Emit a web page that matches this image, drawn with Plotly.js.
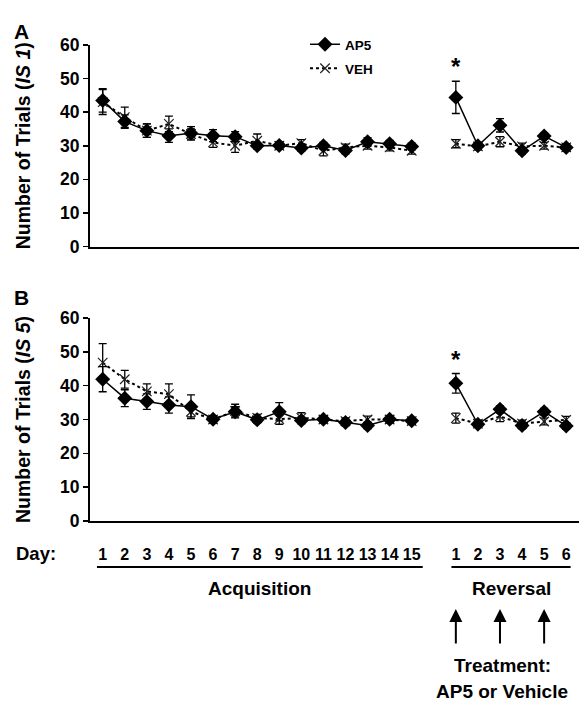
<!DOCTYPE html>
<html>
<head>
<meta charset="utf-8">
<script src="https://cdn.plot.ly/plotly-3.0.1.min.js"></script>
<style>
  html, body { margin: 0; padding: 0; background: #fff; }
  #chart { width: 579px; height: 701px; }
</style>
</head>
<body>
<div id="chart"></div>
<script>
// Day labels for the two phases
const acqDays = ['1','2','3','4','5','6','7','8','9','10','11','12','13','14','15'];
const revDays = ['1','2','3','4','5','6'];

// Panel A: number of trials to criterion, IS 1 (mean and SEM)
const ap5A_acq     = [43.5, 37.2, 34.5, 33.0, 33.7, 33.0, 32.7, 30.0, 30.1, 29.3, 30.0, 28.6, 31.2, 30.6, 29.8];
const ap5A_acqErr  = [3.5, 2.0, 2.0, 2.0, 2.0, 1.8, 1.5, 1.0, 1.0, 1.0, 1.0, 1.0, 1.2, 1.0, 1.0];
const vehA_acq     = [43.0, 38.5, 34.5, 36.5, 33.5, 31.0, 30.0, 31.5, 30.0, 30.8, 28.5, 29.5, 30.0, 29.5, 28.5];
const vehA_acqErr  = [3.7, 3.0, 2.0, 2.3, 1.5, 1.5, 2.0, 2.0, 1.0, 1.0, 1.5, 1.0, 1.0, 1.0, 1.0];
const ap5A_rev     = [44.4, 30.0, 36.1, 28.5, 32.9, 29.5];
const ap5A_revErr  = [4.8, 1.0, 2.0, 1.0, 1.0, 1.0];
const vehA_rev     = [30.6, 29.8, 31.2, 29.8, 30.0, 29.5];
const vehA_revErr  = [1.2, 1.0, 1.5, 1.0, 1.0, 1.0];

// Panel B: number of trials to criterion, IS 5 (mean and SEM)
const ap5B_acq     = [41.9, 36.3, 35.3, 34.3, 33.8, 30.1, 32.3, 29.9, 32.3, 29.7, 30.1, 29.1, 28.2, 30.1, 29.6];
const ap5B_acqErr  = [3.7, 2.5, 2.3, 2.4, 3.5, 1.0, 1.5, 1.0, 2.7, 1.0, 1.0, 1.0, 1.0, 1.0, 1.0];
const vehB_acq     = [46.8, 41.9, 38.3, 37.5, 32.3, 30.0, 32.5, 30.5, 30.1, 30.5, 30.0, 29.5, 30.0, 30.0, 29.5];
const vehB_acqErr  = [5.6, 2.6, 2.2, 3.0, 1.5, 1.0, 2.0, 1.0, 1.5, 1.5, 1.0, 1.0, 1.0, 1.0, 1.0];
const ap5B_rev     = [40.7, 28.6, 33.0, 28.2, 32.3, 28.1];
const ap5B_revErr  = [2.9, 1.0, 1.0, 1.0, 1.0, 1.0];
const vehB_rev     = [30.4, 28.8, 30.9, 28.8, 29.4, 29.9];
const vehB_revErr  = [1.5, 1.0, 1.5, 1.0, 1.0, 1.0];

// Reversal days on which AP5 or vehicle was given
const treatmentDays = ['1', '3', '5'];
const significantRevDay = '1';

// Category positions: acquisition days, one empty slot, then reversal days
const acqPos = acqDays.map((d, i) => i);
const revPos = revDays.map((d, i) => acqDays.length + 1 + i);
const xPos = acqPos.concat([acqDays.length], revPos);
const xText = acqDays.concat([''], revDays);
const revIndex = d => revPos[revDays.indexOf(d)];

// Join the two phases with a gap so the lines do not connect across them
const joinPhases = (a, b) => a.concat([null], b);

const SANS = '"Liberation Sans", Arial, Helvetica, sans-serif';
const W = 579, H = 701, ML = 90, MR = 0;
const px2x = p => (p - ML) / (W - ML - MR);
const px2y = p => 1 - p / H;

function series(name, y, err, xa, ya, isAP5, legendId) {
  return {
    type: 'scatter',
    mode: 'lines+markers',
    name: name,
    x: xPos,
    y: y,
    xaxis: xa,
    yaxis: ya,
    connectgaps: false,
    showlegend: legendId !== null,
    legend: legendId || 'legend',
    line: isAP5 ? { color: '#000', width: 1.5 } : { color: '#000', width: 2, dash: 'dot' },
    marker: isAP5
      ? { symbol: 'diamond', size: 11.5, color: '#000', line: { color: '#000', width: 0 } }
      : { symbol: 'x-thin-open', size: 9.5, color: '#222', line: { color: '#222', width: 1.2 } },
    error_y: { type: 'data', array: err, visible: true, color: '#000', thickness: 1.3, width: 4 },
    cliponaxis: false,
    hoverinfo: 'skip'
  };
}

const traces = [
  series('VEH', joinPhases(vehA_acq, vehA_rev), joinPhases(vehA_acqErr, vehA_revErr), 'x', 'y', false, 'legend2'),
  series('AP5', joinPhases(ap5A_acq, ap5A_rev), joinPhases(ap5A_acqErr, ap5A_revErr), 'x', 'y', true, 'legend'),
  series('VEH', joinPhases(vehB_acq, vehB_rev), joinPhases(vehB_acqErr, vehB_revErr), 'x2', 'y2', false, null),
  series('AP5', joinPhases(ap5B_acq, ap5B_rev), joinPhases(ap5B_acqErr, ap5B_revErr), 'x2', 'y2', true, null)
];

const xRange = [-0.575, 21.58];
const yTicks = [0, 10, 20, 30, 40, 50, 60];

function yAxis(domain, label) {
  return {
    domain: domain,
    range: [0, 60],
    tickvals: yTicks,
    ticks: 'outside',
    ticklen: 5,
    tickwidth: 1.5,
    tickcolor: '#000',
    ticklabelstandoff: 0,
    showline: true,
    linewidth: 2,
    linecolor: '#000',
    showgrid: false,
    zeroline: false,
    tickfont: { family: SANS, size: 17.5, color: '#000', weight: 'bold' },
    title: { text: label, font: { family: SANS, size: 19.5, color: '#000', weight: 'bold' }, standoff: 24 },
    fixedrange: true
  };
}

function xAxis(anchor, withLabels) {
  return {
    anchor: anchor,
    domain: [0, 1],
    range: xRange,
    showline: true,
    linewidth: 2,
    linecolor: '#000',
    showgrid: false,
    zeroline: false,
    ticks: '',
    tickvals: xPos,
    ticktext: xText,
    tickangle: 0,
    showticklabels: withLabels,
    ticklabelstandoff: 18,
    tickfont: { family: SANS, size: 16, color: '#000', weight: 'bold' },
    fixedrange: true
  };
}

const textFont = (size) => ({ family: SANS, size: size, color: '#000', weight: 'bold' });

const annotations = [
  { text: 'A', xref: 'paper', yref: 'paper', x: px2x(12), y: px2y(31), xanchor: 'left', yanchor: 'middle', showarrow: false, font: textFont(21) },
  { text: 'B', xref: 'paper', yref: 'paper', x: px2x(12), y: px2y(297), xanchor: 'left', yanchor: 'middle', showarrow: false, font: textFont(21) },
  { text: 'Day:', xref: 'paper', yref: 'paper', x: px2x(14), y: px2y(553), xanchor: 'left', yanchor: 'middle', showarrow: false, font: textFont(18.5) },
  { text: '*', xref: 'x', yref: 'y', x: revIndex(significantRevDay), y: 53.5, xanchor: 'center', yanchor: 'middle', showarrow: false, font: textFont(24) },
  { text: '*', xref: 'x2', yref: 'y2', x: revIndex(significantRevDay), y: 47.8, xanchor: 'center', yanchor: 'middle', showarrow: false, font: textFont(24) },
  { text: 'Acquisition', xref: 'x2', yref: 'paper', x: 7.1, y: px2y(588), xanchor: 'center', yanchor: 'middle', showarrow: false, font: textFont(19) },
  { text: 'Reversal', xref: 'x2', yref: 'paper', x: 18.53, y: px2y(588), xanchor: 'center', yanchor: 'middle', showarrow: false, font: textFont(19) },
  { text: 'Treatment:', xref: 'x2', yref: 'paper', x: 18.1, y: px2y(665), xanchor: 'center', yanchor: 'middle', showarrow: false, font: textFont(19) },
  { text: 'AP5 or Vehicle', xref: 'x2', yref: 'paper', x: 18.1, y: px2y(691), xanchor: 'center', yanchor: 'middle', showarrow: false, font: textFont(19) }
].concat(treatmentDays.map(d => ({
  text: '', xref: 'x2', yref: 'paper', x: revIndex(d), y: px2y(609),
  showarrow: true, ax: 0, ay: 36, arrowhead: 2, arrowsize: 1.3, arrowwidth: 2, arrowcolor: '#000'
})));

const shapes = [
  { type: 'line', xref: 'x2', yref: 'paper', x0: -0.26, x1: 14.5, y0: px2y(567), y1: px2y(567), line: { color: '#000', width: 2 } },
  { type: 'line', xref: 'x2', yref: 'paper', x0: 15.8, x1: 21.2, y0: px2y(567), y1: px2y(567), line: { color: '#000', width: 2 } }
];

const legendStyle = (top) => ({
  x: px2x(305), y: px2y(top), xanchor: 'left', yanchor: 'top',
  bgcolor: 'rgba(0,0,0,0)', borderwidth: 0,
  font: { family: SANS, size: 13.5, color: '#000', weight: 'bold' },
  itemwidth: 30
});

const layout = {
  width: W,
  height: H,
  margin: { l: ML, r: MR, t: 0, b: 0 },
  paper_bgcolor: '#fff',
  plot_bgcolor: '#fff',
  font: { family: SANS, color: '#000' },
  showlegend: true,
  legend: legendStyle(29),
  legend2: legendStyle(53),
  xaxis: xAxis('y', false),
  yaxis: yAxis([px2y(246.5), px2y(45)], 'Number of Trials (<i>IS 1</i>)'),
  xaxis2: xAxis('y2', true),
  yaxis2: yAxis([px2y(521), px2y(318)], 'Number of Trials (<i>IS 5</i>)'),
  annotations: annotations,
  shapes: shapes
};

Plotly.newPlot('chart', traces, layout, { staticPlot: true, displayModeBar: false });
</script>
</body>
</html>
